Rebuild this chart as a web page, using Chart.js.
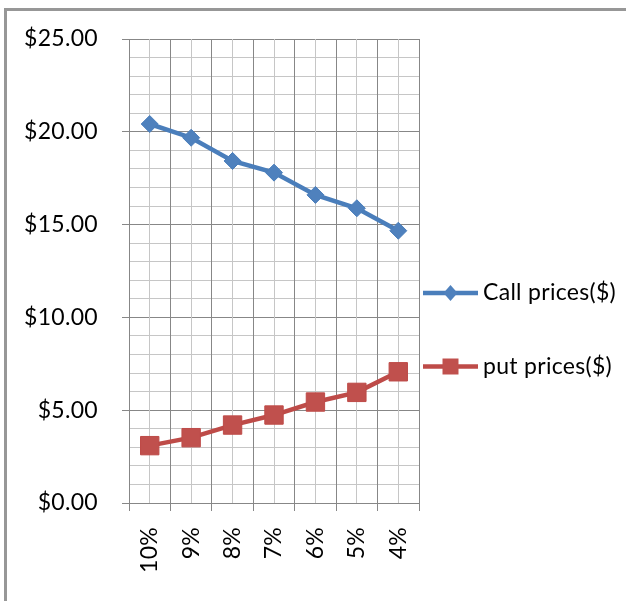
<!DOCTYPE html>
<html><head><meta charset="utf-8">
<script src="https://cdn.jsdelivr.net/npm/chart.js@4"></script>
<style>
html,body{margin:0;padding:0;background:#fff;overflow:hidden}
#wrap{position:relative;width:626px;height:601px}
#frame{position:absolute;left:4px;top:8px;width:640px;height:620px;border-left:3px solid #979797;border-top:3px solid #979797}
canvas{position:absolute;left:0;top:0}
</style></head><body>
<div id="wrap"><div id="frame"></div><canvas id="c" width="626" height="601"></canvas></div>
<script>
const categories = ['10%','9%','8%','7%','6%','5%','4%'];
const callPrices = [20.42, 19.68, 18.43, 17.80, 16.60, 15.88, 14.67];
const putPrices  = [3.09, 3.52, 4.20, 4.74, 5.44, 5.96, 7.07];
const seriesNames = ['Call prices($)', 'put prices($)'];
const yTickLabels = [0, 5, 10, 15, 20, 25];

const FONT = 'Lato, Carlito, "Open Sans", sans-serif';
const FSIZE = 23;
const LSP = '0.3px';
const MAJOR = '#878787';
const MINOR = '#c6c6c6';

const spacing = {
  id: 'spacing',
  beforeDraw(chart) { chart.ctx.letterSpacing = LSP; }
};

const sideLegend = {
  id: 'sideLegend',
  afterDraw(chart) {
    const ctx = chart.ctx;
    const x0 = chart.chartArea.right + 4;
    chart.data.datasets.forEach((ds, i) => {
      const y = 293 + i * 73.5;
      ctx.save();
      ctx.strokeStyle = ds.borderColor;
      ctx.lineWidth = 4.5;
      ctx.beginPath();
      ctx.moveTo(x0, y); ctx.lineTo(x0 + 55, y);
      ctx.stroke();
      const cx = x0 + 27.5;
      ctx.fillStyle = ds.pointBackgroundColor;
      ctx.beginPath();
      if (ds.pointStyle === 'rectRot') {
        ctx.moveTo(cx, y - 8); ctx.lineTo(cx + 7, y); ctx.lineTo(cx, y + 8); ctx.lineTo(cx - 7, y);
        ctx.closePath();
      } else {
        ctx.rect(cx - 8, y - 8, 16, 16);
      }
      ctx.fill();
      ctx.fillStyle = '#000';
      ctx.font = FSIZE + 'px ' + FONT;
      ctx.letterSpacing = LSP;
      ctx.textBaseline = 'middle';
      ctx.textAlign = 'left';
      ctx.fillText(ds.label, x0 + 60, y);
      ctx.restore();
    });
  }
};

new Chart(document.getElementById('c'), {
  type: 'line',
  data: {
    labels: categories,
    datasets: [
      {
        label: seriesNames[0], data: callPrices,
        borderColor: '#4A7EBB', backgroundColor: '#4F81BD',
        borderWidth: 4.5, tension: 0,
        pointStyle: 'rectRot', pointRadius: 8.5, pointBorderWidth: 1,
        pointBorderColor: '#4A7EBB', pointBackgroundColor: '#4F81BD',
        xAxisID: 'x', yAxisID: 'y'
      },
      {
        label: seriesNames[1], data: putPrices,
        borderColor: '#BE4B48', backgroundColor: '#C0504D',
        borderWidth: 4.5, tension: 0,
        pointStyle: 'rect', pointRadius: 13, pointBorderWidth: 1,
        pointBorderColor: '#BE4B48', pointBackgroundColor: '#C0504D',
        xAxisID: 'x', yAxisID: 'y'
      }
    ]
  },
  options: {
    responsive: false, animation: false, devicePixelRatio: 1, events: [],
    layout: { padding: { top: 39, right: 207, left: 0, bottom: 0 } },
    plugins: { legend: { display: false }, tooltip: { enabled: false } },
    scales: {
      y: {
        position: 'left', min: 0, max: 25,
        afterFit: s => { s.width = 129; },
        ticks: {
          stepSize: 1, autoSkip: false, padding: 24, color: '#000',
          font: { family: FONT, size: FSIZE },
          callback: v => yTickLabels.includes(v) ? '$' + v.toFixed(2) : ''
        },
        grid: {
          color: c => (c.tick && c.tick.value % 5 === 0) ? MAJOR : MINOR,
          tickColor: c => (c.tick && c.tick.value % 5 === 0) ? MAJOR : 'rgba(0,0,0,0)',
          tickLength: 7, lineWidth: 1
        },
        border: { display: true, color: MAJOR, width: 1 }
      },
      x: {
        type: 'category', position: 'bottom', offset: true,
        afterFit: s => { s.height = 98; },
        ticks: {
          minRotation: 90, maxRotation: 90, autoSkip: false, padding: 16, color: '#000',
          font: { family: FONT, size: FSIZE }
        },
        grid: { offset: true, color: MAJOR, tickColor: MAJOR, tickLength: 8, lineWidth: 1 },
        border: { display: true, color: MAJOR, width: 1 }
      },
      x2: {
        type: 'category', position: 'top', offset: true,
        afterFit: s => { s.height = 0; },
        ticks: { display: false },
        grid: { offset: false, color: MINOR, drawTicks: false, lineWidth: 1 },
        border: { display: false }
      }
    }
  },
  plugins: [spacing, sideLegend]
});
</script>
</body></html>
